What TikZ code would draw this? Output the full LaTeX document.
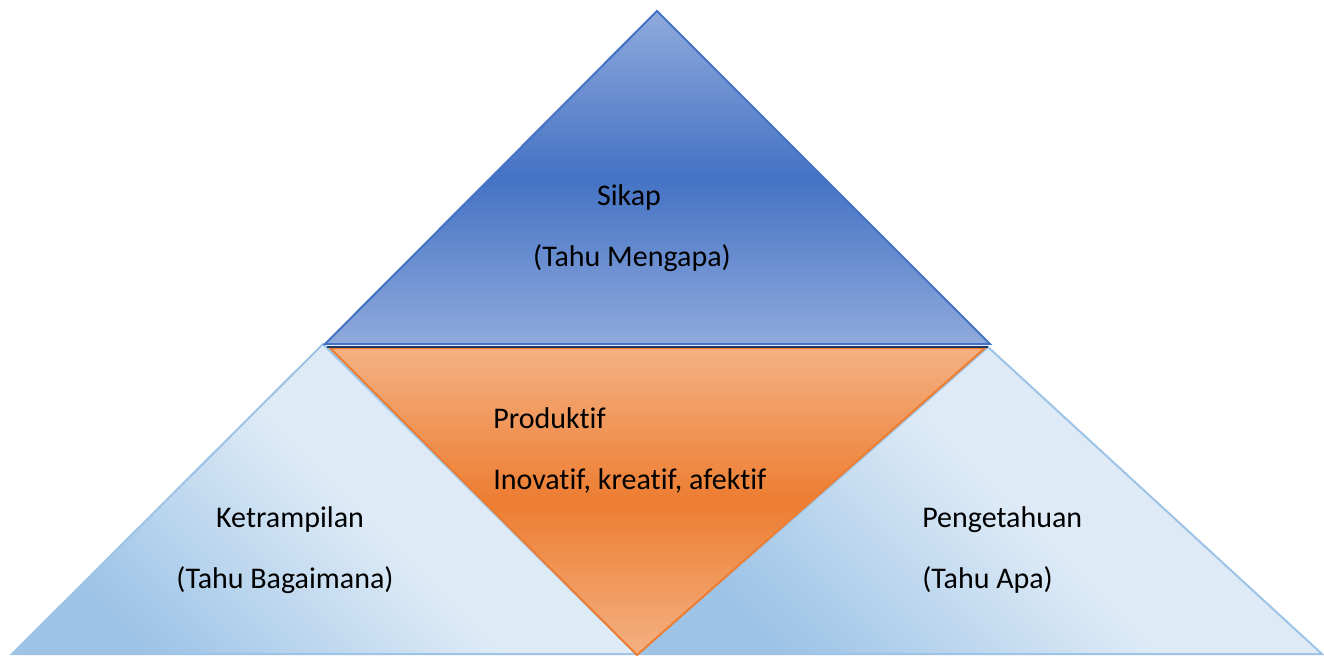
\documentclass[tikz,border=0pt]{standalone}
\usepackage{xcolor}
\usepackage{tikz}
\usepackage{fontspec}
\setmainfont{Carlito}[Ligatures=NoCommon]

\definecolor{sikaplight}{RGB}{143,170,220}
\definecolor{sikapdark}{RGB}{68,114,196}
\definecolor{sikapbase}{RGB}{32,56,100}
\definecolor{produklight}{RGB}{244,177,131}
\definecolor{produkdark}{RGB}{237,125,49}
\definecolor{sidelight}{RGB}{222,235,247}
\definecolor{sidemid}{RGB}{205,224,242}
\definecolor{sidedark}{RGB}{157,195,230}
\definecolor{sideedge}{RGB}{157,195,230}

\pgfdeclarehorizontalshading{sideshade}{100bp}{color(0bp)=(sidedark); color(25bp)=(sidedark); color(52bp)=(sidelight); color(64bp)=(sidelight); color(75bp)=(sidemid); color(100bp)=(sidemid)}

\tikzset{
  sidetri/.style={draw=sideedge, line width=1.5pt, shading=sideshade, shading angle=45},
  txtlabel/.style={inner sep=0pt, font=\fontsize{22.5}{27}\selectfont}
}

\begin{document}
\begin{tikzpicture}[x=0.75pt,y=0.75pt,yscale=-1,xscale=1]
\path[use as bounding box] (0,0) rectangle (1324,656);

%Shape: Triangle left
\draw [sidetri] (323,344) -- (636,654) -- (12,654) -- cycle ;
%Shape: Triangle right
\draw [sidetri] (988,347) -- (1322,654) -- (640,654) -- cycle ;
%Shape: Triangle middle
\draw [draw=produkdark, line width=1.5pt, top color=produklight, bottom color=produklight, middle color=produkdark] (330,348) -- (985,348) -- (637,655) -- cycle ;
%Shape: Triangle top
\draw [draw=sikapdark, line width=1.5pt, top color=sikaplight, bottom color=sikaplight, middle color=sikapdark] (657,11) -- (990,344) -- (325,344) -- cycle ;
\draw [draw=sikapbase, line width=1.8pt] (327,347) -- (988,347) ;

% Text Node
\draw (629,205) node [txtlabel, anchor=base] (sikap) {Sikap};
% Text Node
\draw (632,266) node [txtlabel, anchor=base] (mengapa) {(Tahu Mengapa)};
% Text Node
\draw (493,428) node [txtlabel, anchor=base west] (produktif) {Produktif};
% Text Node
\draw (493,489) node [txtlabel, anchor=base west] (inovatif) {Inovatif, kreatif, afektif};
% Text Node
\draw (290,527) node [txtlabel, anchor=base] (ketrampilan) {Ketrampilan};
% Text Node
\draw (285,588) node [txtlabel, anchor=base] (bagaimana) {(Tahu Bagaimana)};
% Text Node
\draw (922,527) node [txtlabel, anchor=base west] (pengetahuan) {Pengetahuan};
% Text Node
\draw (922,588) node [txtlabel, anchor=base west] (apa) {(Tahu Apa)};

\end{tikzpicture}
\end{document}
